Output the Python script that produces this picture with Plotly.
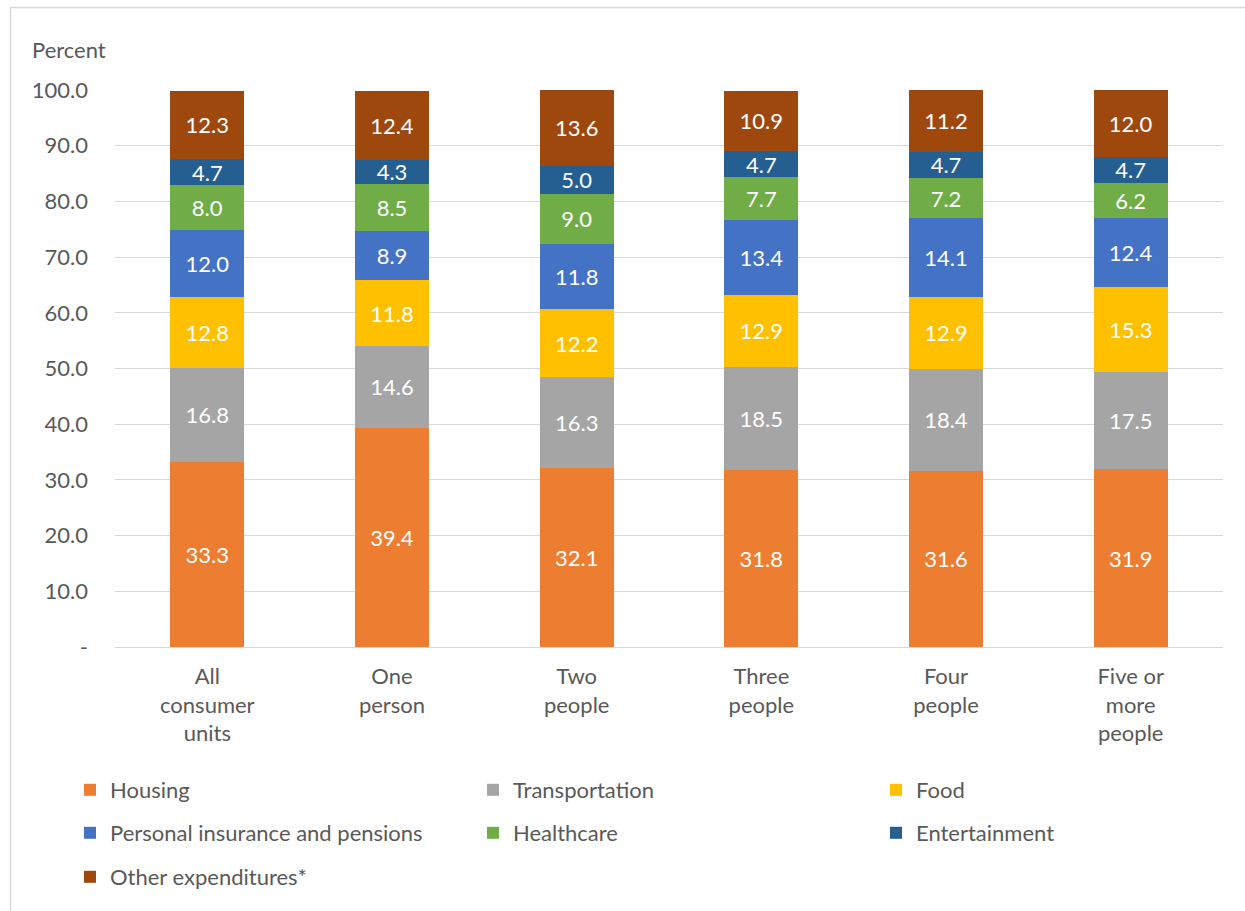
import plotly.graph_objects as go

# Household size categories (x axis)
categories = [
    "All<br>consumer<br>units",
    "One<br>person",
    "Two<br>people",
    "Three<br>people",
    "Four<br>people",
    "Five or<br>more<br>people",
]

# Share of total expenditures (percent), stacked bottom to top
housing = [33.3, 39.4, 32.1, 31.8, 31.6, 31.9]
transportation = [16.8, 14.6, 16.3, 18.5, 18.4, 17.5]
food = [12.8, 11.8, 12.2, 12.9, 12.9, 15.3]
personal_insurance = [12.0, 8.9, 11.8, 13.4, 14.1, 12.4]
healthcare = [8.0, 8.5, 9.0, 7.7, 7.2, 6.2]
entertainment = [4.7, 4.3, 5.0, 4.7, 4.7, 4.7]
other = [12.3, 12.4, 13.6, 10.9, 11.2, 12.0]

# Y axis ticks
y_tickvals = [0, 10, 20, 30, 40, 50, 60, 70, 80, 90, 100]
y_ticktext = ["-", "10.0", "20.0", "30.0", "40.0", "50.0", "60.0", "70.0", "80.0", "90.0", "100.0"]

series = [
    ("Housing", housing, "#ED7D31", "legend"),
    ("Transportation", transportation, "#A5A5A5", "legend"),
    ("Food", food, "#FFC000", "legend"),
    ("Personal insurance and pensions", personal_insurance, "#4472C4", "legend2"),
    ("Healthcare", healthcare, "#70AD47", "legend2"),
    ("Entertainment", entertainment, "#255E91", "legend2"),
    ("Other expenditures*", other, "#9E480E", "legend3"),
]

FONT = "Lato, 'Open Sans', sans-serif"
FS = 22
TEXT_COLOR = "#595959"

fig = go.Figure()
for name, vals, color, leg in series:
    fig.add_trace(go.Bar(
        x=categories,
        y=vals,
        name=name,
        marker=dict(color=color, line=dict(width=0)),
        texttemplate="%{y:.1f}",
        textposition="inside",
        insidetextanchor="middle",
        textangle=0,
        constraintext="none",
        textfont=dict(color="white", size=FS, family=FONT),
        legend=leg,
        hoverinfo="skip",
    ))

W, H = 1245, 911
ml, mr, mt, mb = 115, 22, 90, 264
plot_w = W - ml - mr
plot_h = H - mt - mb

def px_to_paper_x(px):
    return (px - ml) / plot_w

def px_to_paper_y(py):
    return (H - mb - py) / plot_h

legend_common = dict(
    orientation="h",
    xanchor="left",
    yanchor="middle",
    x=px_to_paper_x(70),
    entrywidth=358,
    entrywidthmode="pixels",
    font=dict(size=FS, family=FONT, color=TEXT_COLOR),
    bgcolor="rgba(0,0,0,0)",
    traceorder="normal",
)

fig.update_layout(
    width=W,
    height=H,
    margin=dict(l=ml, r=mr, t=mt, b=mb, autoexpand=False),
    barmode="stack",
    bargap=0.6,
    plot_bgcolor="white",
    paper_bgcolor="white",
    font=dict(family=FONT, size=FS, color=TEXT_COLOR),
    showlegend=True,
    legend=dict(legend_common, y=px_to_paper_y(790)),
    legend2=dict(legend_common, y=px_to_paper_y(833)),
    legend3=dict(legend_common, y=px_to_paper_y(877)),
    xaxis=dict(
        showgrid=False,
        showline=False,
        ticks="",
        tickfont=dict(size=FS, family=FONT, color=TEXT_COLOR),
        ticklabelstandoff=14,
    ),
    yaxis=dict(
        range=[0, 100],
        tickvals=y_tickvals,
        ticktext=y_ticktext,
        showgrid=True,
        gridcolor="#D9D9D9",
        gridwidth=1.3,
        zeroline=True,
        zerolinecolor="#D9D9D9",
        zerolinewidth=1.3,
        showline=False,
        ticks="",
        ticklabelstandoff=26,
        tickfont=dict(size=FS, family=FONT, color=TEXT_COLOR),
    ),
    annotations=[
        dict(
            text="Percent",
            xref="paper", yref="paper",
            x=px_to_paper_x(30), y=px_to_paper_y(50),
            xanchor="left", yanchor="middle",
            showarrow=False,
            font=dict(size=FS, family=FONT, color=TEXT_COLOR),
        )
    ],
    shapes=[
        dict(
            type="rect",
            xref="paper", yref="paper",
            x0=px_to_paper_x(10.5), y0=px_to_paper_y(930),
            x1=px_to_paper_x(1260), y1=px_to_paper_y(7.5),
            line=dict(color="#D9D9D9", width=1.5),
            fillcolor="rgba(0,0,0,0)",
            layer="below",
        )
    ],
)

fig.write_html("out.html")
